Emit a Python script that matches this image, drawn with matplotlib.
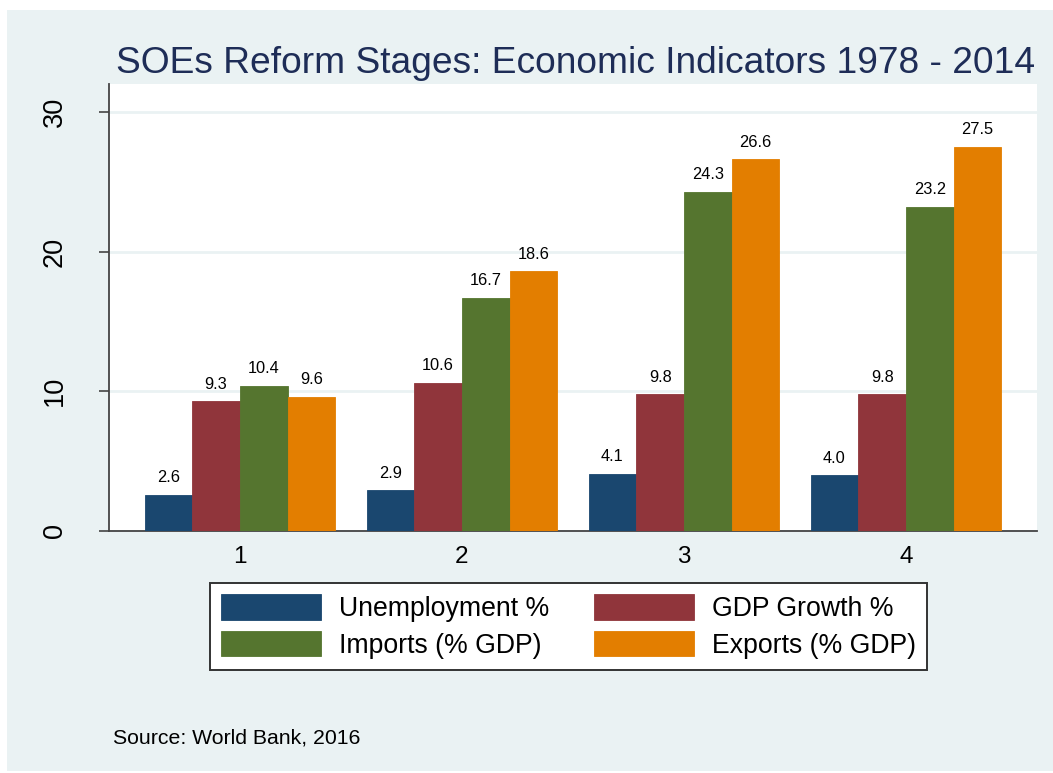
import matplotlib
matplotlib.use('Agg')
import matplotlib.pyplot as plt
import numpy as np
from matplotlib.patches import Rectangle

plt.rcParams['font.family'] = ['Liberation Sans', 'DejaVu Sans']

# 各阶段经济指标
stages = [1, 2, 3, 4]
unemployment = [2.6, 2.9, 4.1, 4.0]
gdp_growth = [9.3, 10.6, 9.8, 9.8]
imports = [10.4, 16.7, 24.3, 23.2]
exports = [9.6, 18.6, 26.6, 27.5]
series_names = ['Unemployment %', 'GDP Growth %', 'Imports (% GDP)', 'Exports (% GDP)']
y_ticks = [0, 10, 20, 30]

# Stata s2color 配色
colors = ['#1A476F', '#90353B', '#55752F', '#E37E00']
bg_color = '#EAF2F3'

W, H = 1053, 773
fig = plt.figure(figsize=(W / 100, H / 100), dpi=100)
fig.patch.set_facecolor('white')
# 外层背景
fig.patches.append(Rectangle((7 / W, 2 / H), (W - 7) / W, (771 - 10) / H,
                             transform=fig.transFigure, facecolor=bg_color,
                             edgecolor='none', zorder=-10))

ax = fig.add_axes([109 / W, (H - 531) / H, (1037 - 109) / W, (531 - 84) / H])
ax.set_facecolor('white')

bar_w = 0.215
x = np.array(stages, dtype=float)
all_series = [unemployment, gdp_growth, imports, exports]
handles = []
for i, (vals, name, c) in enumerate(zip(all_series, series_names, colors)):
    pos = x + (i - 1.5) * bar_w
    bars = ax.bar(pos, vals, width=bar_w, color=c, edgecolor=c, linewidth=0.6,
                  label=name, zorder=3)
    handles.append(bars)
    for p, v in zip(pos, vals):
        ax.annotate('%.1f' % v, (p, v), xytext=(0, 12.2), textcoords='offset points',
                    ha='center', va='center', fontsize=11.8, color='black', zorder=4)

ax.set_xlim(0.41, 4.59)
ax.set_ylim(0, 32)
ax.set_yticks(y_ticks)
ax.set_yticklabels([str(t) for t in y_ticks], rotation=90, va='center', fontsize=19.5)
ax.set_xticks(stages)
ax.set_xticklabels([str(s) for s in stages], fontsize=17.5)
ax.tick_params(axis='y', length=7.5, width=1.2, color='#444444', pad=22)
ax.tick_params(axis='x', length=0, pad=11)
ax.yaxis.grid(True, color=bg_color, linewidth=2, zorder=0)
ax.set_axisbelow(True)

for s in ['top', 'right']:
    ax.spines[s].set_visible(False)
for s in ['left', 'bottom']:
    ax.spines[s].set_color('#444444')
    ax.spines[s].set_linewidth(1.3)

fig.text(576 / W, 1 - 73 / H, 'SOEs Reform Stages: Economic Indicators 1978 - 2014',
         ha='center', va='baseline', fontsize=26.7, color='#1E2D57')

# 图例按行排列：第一行失业率、GDP增长，第二行进口、出口
leg = fig.legend([handles[0], handles[2], handles[1], handles[3]],
                 [series_names[0], series_names[2], series_names[1], series_names[3]],
                 ncol=2, loc='upper left', bbox_to_anchor=(210 / W, 1 - 583 / H),
                 fontsize=19.2, frameon=True, fancybox=False, shadow=False,
                 handlelength=3.75, handleheight=1.1, handletextpad=0.68,
                 columnspacing=1.65, labelspacing=0.33, borderpad=0.42,
                 borderaxespad=0)
leg.get_frame().set_edgecolor('#333333')
leg.get_frame().set_linewidth(1.4)
leg.get_frame().set_alpha(1)

fig.text(113 / W, 1 - 744 / H, 'Source: World Bank, 2016', ha='left', va='baseline',
         fontsize=15.3, color='black')

fig.savefig('out.png', dpi=100, facecolor=fig.get_facecolor())
